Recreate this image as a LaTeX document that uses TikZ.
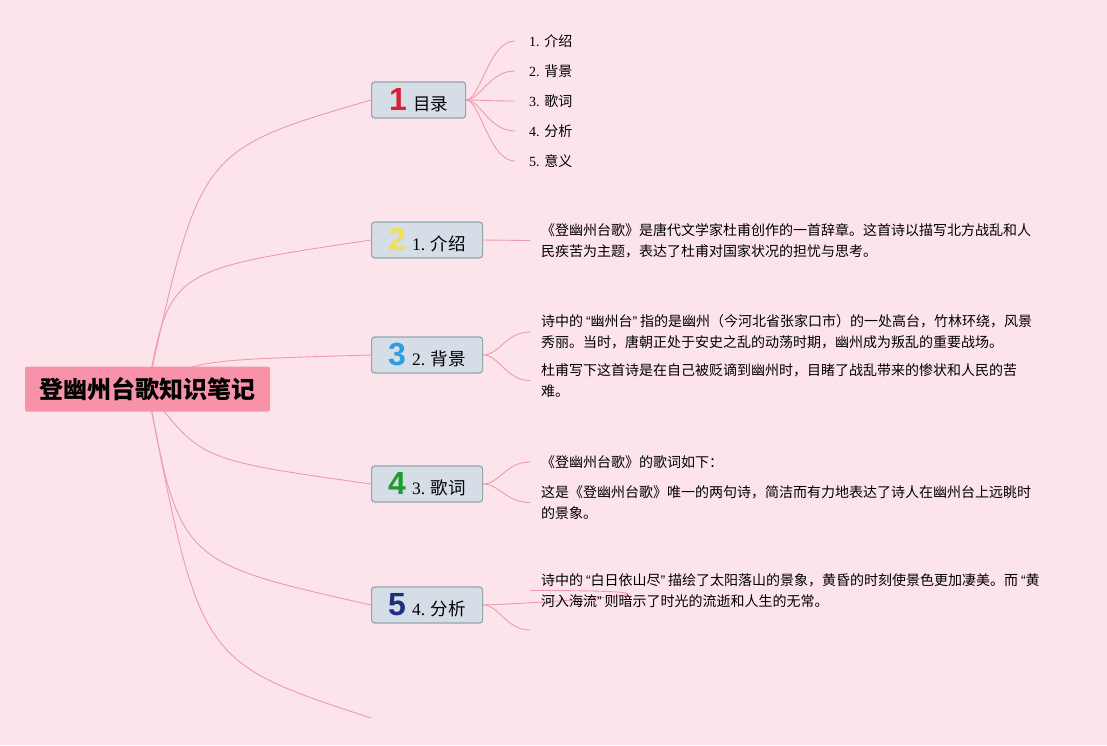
\documentclass[tikz,border=0pt]{standalone}
\usepackage{fontspec}
\setmainfont{Liberation Serif}
\newfontfamily\cjk{Noto Sans CJK SC}
\newfontfamily\digitfont{Liberation Sans}
\usetikzlibrary{backgrounds}
\definecolor{cbg}{HTML}{FDE4EA}
\definecolor{croot}{HTML}{F892A8}
\definecolor{cline}{HTML}{EE9AB4}
\definecolor{cbox}{HTML}{D5DDE6}
\definecolor{cboxline}{HTML}{8FA9AD}
\definecolor{cred}{HTML}{D8213B}
\definecolor{cyellow}{HTML}{F4DE52}
\definecolor{cblue}{HTML}{2E9BE2}
\definecolor{cgreen}{HTML}{1D9B2C}
\definecolor{cnavy}{HTML}{1F2E82}
\newcommand\icon[2]{{\digitfont\bfseries\fontsize{32}{32}\selectfont\color{#1}#2}\hspace{6pt}}
\newcommand\oq{\makebox[7.5pt][r]{\digitfont “}}
\newcommand\cq{\makebox[7.5pt][l]{\digitfont ”}}
\tikzset{
  every picture/.style={x=1pt, y=-1pt},
  root/.style={fill=croot, rounded corners=2pt, minimum width=245pt, minimum height=45pt, inner sep=0pt, font=\cjk\bfseries\fontsize{24}{24}\selectfont},
  branch/.style={draw=cboxline, fill=cbox, line width=1.2pt, rounded corners=3pt, anchor=west, minimum height=36pt, inner sep=0pt, font=\fontsize{17.5}{18}\selectfont},
  item/.style={anchor=west, inner xsep=14pt, inner ysep=0pt, font=\fontsize{14}{16}\selectfont},
  para/.style={anchor=west, inner xsep=11pt, inner ysep=0pt, align=left, font=\cjk\fontsize{14}{21}\selectfont},
  link/.style={draw=cline, line width=0.9pt},
}

\begin{document}
\begin{tikzpicture}
  \begin{scope}[on background layer]
    \fill[cbg] (0,0) rectangle (1107,745);
  \end{scope}
  \useasboundingbox (0,0) rectangle (1107,745);

  \node[root] (root) at (147.5,389) {登幽州台歌知识笔记};

  \node[branch, minimum width=94pt] (n1) at (371,100) {\icon{cred}{1}{\cjk 目录}};
  \node[branch, minimum width=111pt] (n2) at (371,240) {\icon{cyellow}{2}1. {\cjk 介绍}};
  \node[branch, minimum width=111pt] (n3) at (371,355) {\icon{cblue}{3}2. {\cjk 背景}};
  \node[branch, minimum width=111pt] (n4) at (371,484) {\icon{cgreen}{4}3. {\cjk 歌词}};
  \node[branch, minimum width=111pt] (n5) at (371,605) {\icon{cnavy}{5}4. {\cjk 分析}};
  \coordinate (e6) at (371,718);

  % table of contents
  \foreach \i/\y/\t in {1/41/介绍, 2/71/背景, 3/101/歌词, 4/131/分析, 5/161/意义}
    \node[item] (i\i) at (515,\y) {\i. {\cjk \t}};

  \node[para] (t21) at (530,240.5) {《登幽州台歌》是唐代文学家杜甫创作的一首辞章。这首诗以描写北方战乱和人\\民疾苦为主题，表达了杜甫对国家状况的担忧与思考。};
  \node[para] (t31) at (530,332) {诗中的\oq 幽州台\cq 指的是幽州（今河北省张家口市）的一处高台，竹林环绕，风景\\秀丽。当时，唐朝正处于安史之乱的动荡时期，幽州成为叛乱的重要战场。};
  \node[para] (t32) at (530,380.5) {杜甫写下这首诗是在自己被贬谪到幽州时，目睹了战乱带来的惨状和人民的苦\\难。};
  \node[para] (t41) at (530,462) {《登幽州台歌》的歌词如下：};
  \node[para] (t42) at (530,502.5) {这是《登幽州台歌》唯一的两句诗，简洁而有力地表达了诗人在幽州台上远眺时\\的景象。};
  \node[para] (t51) at (530,590.5) {诗中的\oq 白日依山尽\cq 描绘了太阳落山的景象，黄昏的时刻使景色更加凄美。而\oq 黄\\河入海流\cq 则暗示了时光的流逝和人生的无常。};
  \coordinate (e52) at (530,630);

  \begin{scope}[on background layer]
    \foreach \n/\c in {n1/{(200,150)}, n2/{(170,270)}, n3/{(195,360)}, n4/{(200,460)}, n5/{(180,562)}, e6/{(200,662)}}
      \draw[link] (root.center) .. controls \c .. (\n.west);
    \foreach \i in {1,...,5}
      \draw[link] (n1.east) .. controls +(14,0) and +(-26,0) .. (i\i.west);
    \draw[link] (n2.east) -- (t21.west);
    \foreach \t in {t31, t32}
      \draw[link] (n3.east) .. controls +(16,0) and +(-24,0) .. (\t.west);
    \foreach \t in {t41, t42}
      \draw[link] (n4.east) .. controls +(16,0) and +(-24,0) .. (\t.west);
    \foreach \t in {t51, e52}
      \draw[link] (n5.east) .. controls +(16,0) and +(-24,0) .. (\t);
  \end{scope}
\end{tikzpicture}
\end{document}
